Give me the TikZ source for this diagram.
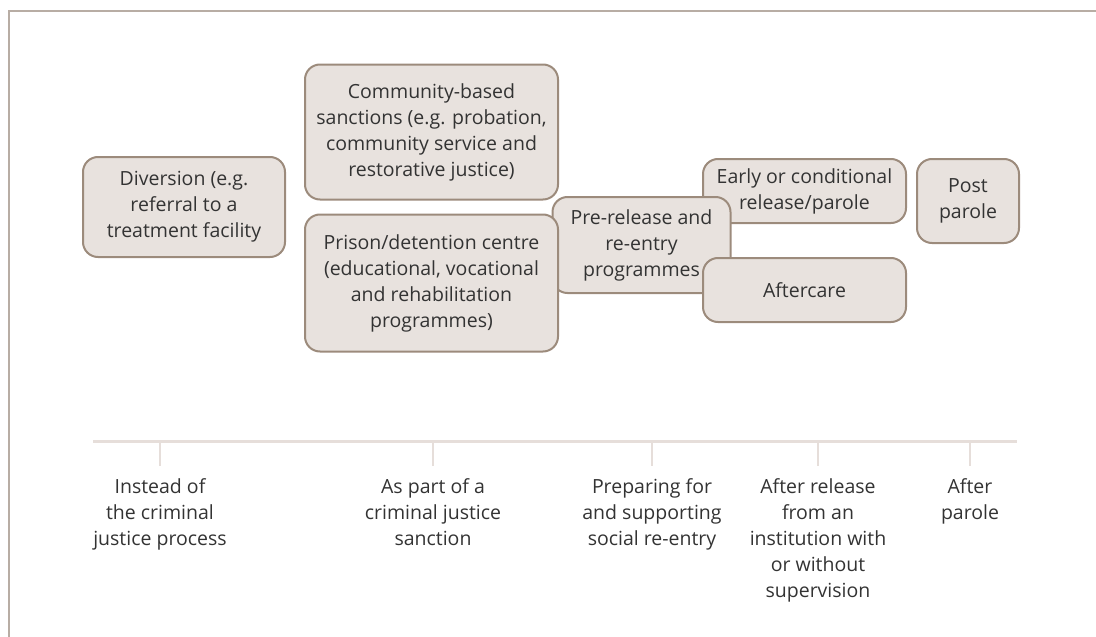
\documentclass[tikz,border=0pt]{standalone}
\usepackage{fontspec}
\setmainfont{Open Sans}
\definecolor{frame}{HTML}{B8ADA4}
\definecolor{boxdraw}{HTML}{9C8B7C}
\definecolor{boxfill}{HTML}{E8E2DE}
\definecolor{axis}{HTML}{E6DEDA}
\definecolor{txt}{HTML}{333333}
\tikzset{
  stage/.style={draw=boxdraw, fill=boxfill, line width=2pt, rounded corners=15pt,
    inner sep=0pt, align=center, text=txt,
    font=\fontsize{19.5}{26}\selectfont},
  when/.style={inner sep=0pt, align=center, text=txt, anchor=north,
    font=\fontsize{19.5}{26}\selectfont},
  tick/.style={draw=axis, line width=2pt},
}
\begin{document}
\begin{tikzpicture}[x=1pt,y=-1pt]
\useasboundingbox (0,0) rectangle (1096,637);
% frame
\draw[frame, line width=2pt] (1096,11) -- (9,11) -- (9,637);
% boxes
\node[stage, minimum width=202pt, minimum height=100pt] (div) at (184,207)
  {Diversion (e.g.\\referral to a\\treatment facility};
\node[stage, minimum width=253pt, minimum height=135pt] (com) at (431.5,132)
  {Community-based\\sanctions (e.g. probation,\\community service and\\restorative justice)};
\node[stage, minimum width=203pt, minimum height=64pt] (early) at (804.5,191)
  {Early or conditional\\release/parole};
\node[stage, minimum width=178pt, minimum height=96pt] (pre) at (641.5,245)
  {Pre-release and\\re-entry\\programmes};
\node[stage, minimum width=253pt, minimum height=137pt] (pri) at (431.5,283)
  {Prison/detention centre\\(educational, vocational\\and rehabilitation\\programmes)};
\node[stage, minimum width=203pt, minimum height=64pt] (after) at (804.5,290)
  {Aftercare};
\node[stage, minimum width=102pt, minimum height=84pt] (post) at (968,201)
  {Post\\parole};
% timeline
\coordinate (tl) at (93,441);
\coordinate (tr) at (1017,441);
\draw[draw=axis, line width=3pt] (tl) -- (tr);
\foreach \n/\x in {a/160,b/433,c/652,d/818,e/970}{
  \coordinate (t\n) at (\x,441);
  \coordinate (b\n) at (\x,466);
  \draw[tick] (t\n) -- (b\n);
}
\node[when] (la) at (160,478) {Instead of\\the criminal\\justice process};
\node[when] (lb) at (433,478) {As part of a\\criminal justice\\sanction};
\node[when] (lc) at (652,478) {Preparing for\\and supporting\\social re-entry};
\node[when] (ld) at (818,478) {After release\\from an\\institution with\\or without\\supervision};
\node[when] (le) at (970,478) {After\\parole};
\end{tikzpicture}
\end{document}
